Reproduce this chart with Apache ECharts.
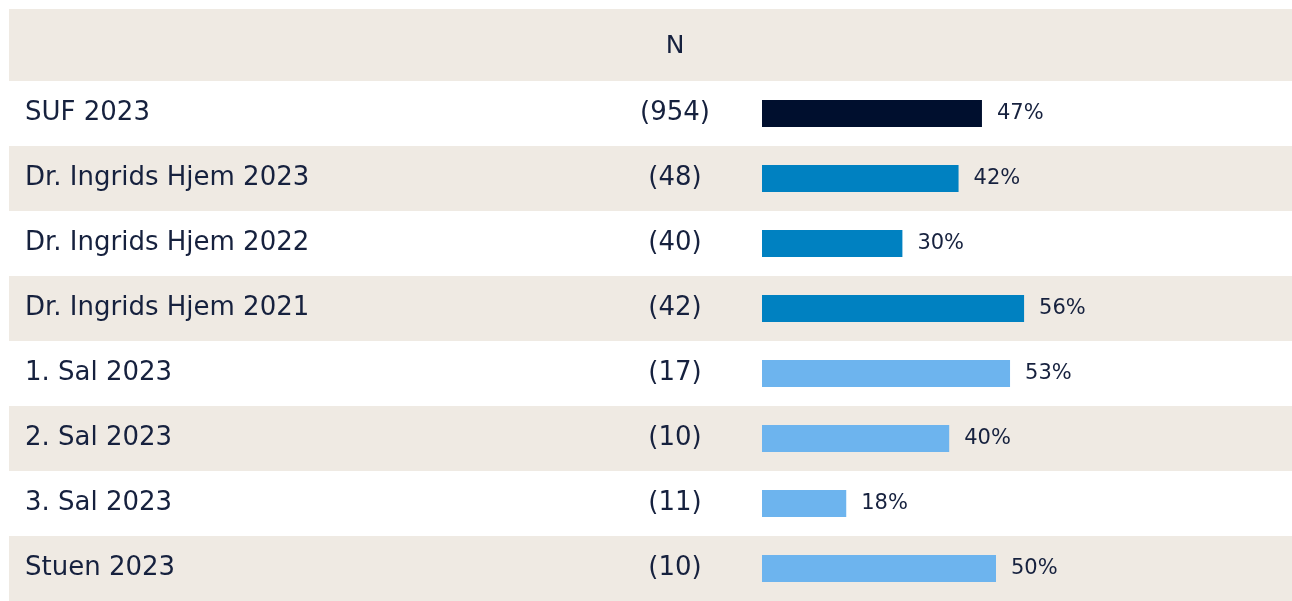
<!DOCTYPE html>
<html>
<head>
<meta charset="utf-8">
<script src="https://cdn.jsdelivr.net/npm/echarts@6/dist/echarts.min.js"></script>
<style>
  html, body { margin: 0; padding: 0; background: #ffffff; }
  #chart { width: 1292px; height: 601px; }
</style>
</head>
<body>
<div id="chart"></div>
<script>
// rows of the table
const categories = ['SUF 2023', 'Dr. Ingrids Hjem 2023', 'Dr. Ingrids Hjem 2022', 'Dr. Ingrids Hjem 2021',
  '1. Sal 2023', '2. Sal 2023', '3. Sal 2023', 'Stuen 2023']
const counts = [954, 48, 40, 42, 17, 10, 11, 10]
const values = [47, 42, 30, 56, 53, 40, 18, 50]
const barColors = ['#000f2e', '#0081c1', '#0081c1', '#0081c1', '#6db4ee', '#6db4ee', '#6db4ee', '#6db4ee']

const textColor = '#16213e'
const beige = '#efeae3'
const font = 'DejaVu Sans'

const chart = echarts.init(document.getElementById('chart'))

const option = {
  backgroundColor: '#ffffff',
  animation: false,
  graphic: [
    {
      type: 'rect',
      shape: { x: 9, y: 9, width: 1283, height: 72 },
      style: { fill: beige },
      z: -10
    },
    {
      type: 'text',
      x: 675,
      y: 46,
      style: {
        text: 'N',
        fill: textColor,
        font: '25px ' + font,
        textAlign: 'center',
        textVerticalAlign: 'middle'
      }
    }
  ],
  grid: [
    // background rows + row names
    { left: 9, right: 0, top: 81, bottom: 0 },
    // bars + N column
    { left: 762, width: 468, top: 81, bottom: 0 }
  ],
  xAxis: [
    { gridIndex: 0, type: 'value', show: false, min: 0, max: 100 },
    { gridIndex: 1, type: 'value', show: false, min: 0, max: 100 }
  ],
  yAxis: [
    {
      gridIndex: 0,
      type: 'category',
      data: categories,
      inverse: true,
      axisLine: { show: false },
      axisTick: { show: false },
      splitLine: { show: false },
      splitArea: { show: true, areaStyle: { color: ['#ffffff', beige] } },
      axisLabel: {
        inside: true,
        margin: 16,
        align: 'left',
        color: textColor,
        fontFamily: font,
        fontSize: 26,
        padding: [6, 0, 0, 0]
      }
    },
    {
      gridIndex: 1,
      type: 'category',
      data: categories,
      inverse: true,
      axisLine: { show: false },
      axisTick: { show: false },
      splitLine: { show: false },
      axisLabel: {
        margin: 87,
        align: 'center',
        color: textColor,
        fontFamily: font,
        fontSize: 26,
        padding: [6, 0, 0, 0],
        formatter: function (v, i) { return '(' + counts[i] + ')' }
      }
    }
  ],
  series: [{
    type: 'bar',
    xAxisIndex: 1,
    yAxisIndex: 1,
    barWidth: 27,
    data: values.map((v, i) => ({ value: v, itemStyle: { color: barColors[i] } })),
    label: {
      show: true,
      position: 'right',
      distance: 15,
      color: textColor,
      fontFamily: font,
      fontSize: 21,
      padding: [6, 0, 0, 0],
      formatter: '{c}%'
    }
  }]
}

chart.setOption(option)
</script>
</body>
</html>
